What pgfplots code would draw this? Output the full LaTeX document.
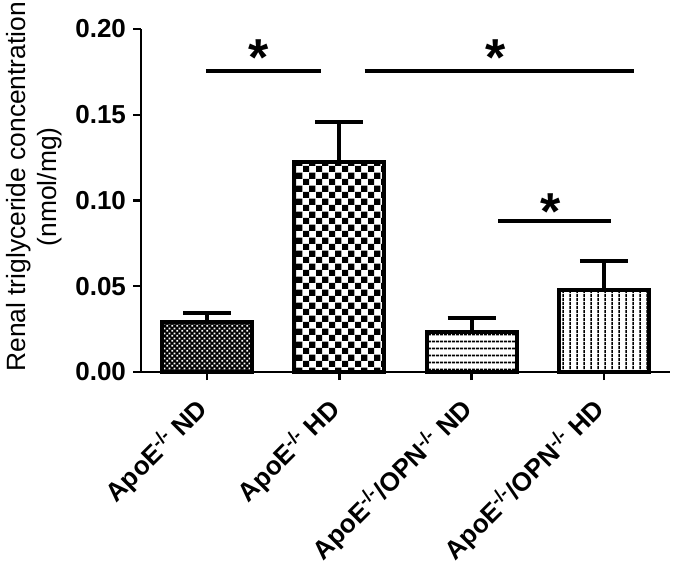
\documentclass[border=0pt]{standalone}
\usepackage{pgfplots}
\pgfplotsset{compat=1.18}
\usepackage{fontspec}
\setmainfont{Liberation Sans}
\usetikzlibrary{patterns,calc}

% Muster der Balken
\pgfdeclarepatternformonly{whitedots}{\pgfqpoint{0pt}{0pt}}{\pgfqpoint{2.6pt}{2.6pt}}{\pgfqpoint{2.6pt}{2.6pt}}{%
  \pgfpathrectangle{\pgfqpoint{0.2pt}{0.2pt}}{\pgfqpoint{1pt}{1pt}}%
  \pgfpathrectangle{\pgfqpoint{1.5pt}{1.5pt}}{\pgfqpoint{1pt}{1pt}}%
  \pgfusepath{fill}}
\pgfdeclarepatternformonly{bigchecker}{\pgfqpoint{0pt}{0pt}}{\pgfqpoint{6.6pt}{6.6pt}}{\pgfqpoint{6.6pt}{6.6pt}}{%
  \pgfpathrectangle{\pgfqpoint{0pt}{0pt}}{\pgfqpoint{3.3pt}{3.3pt}}%
  \pgfpathrectangle{\pgfqpoint{3.3pt}{3.3pt}}{\pgfqpoint{3.3pt}{3.3pt}}%
  \pgfusepath{fill}}
\pgfdeclarepatternformonly{myhlines}{\pgfqpoint{0pt}{0pt}}{\pgfqpoint{2pt}{3.7pt}}{\pgfqpoint{2pt}{3.7pt}}{%
  \pgfpathrectangle{\pgfqpoint{0pt}{1.4pt}}{\pgfqpoint{2pt}{0.9pt}}%
  \pgfusepath{fill}}
\pgfdeclarepatternformonly{myvlines}{\pgfqpoint{0pt}{0pt}}{\pgfqpoint{3.5pt}{2pt}}{\pgfqpoint{3.5pt}{2pt}}{%
  \pgfpathrectangle{\pgfqpoint{1.3pt}{0pt}}{\pgfqpoint{0.9pt}{2pt}}%
  \pgfusepath{fill}}

\newcommand{\labfont}{\fontsize{13}{15}\selectfont\bfseries}
\newcommand{\ko}{\textsuperscript{-/-}}

\begin{document}
\begin{tikzpicture}
\begin{axis}[
    width=264.5pt, height=171.5pt, scale only axis,
    xmin=-0.5, xmax=3.5, ymin=0, ymax=0.2,
    enlargelimits=false,
    axis lines=left,
    axis line style={-, line width=1.2pt},
    clip=false,
    ytick={0,0.05,0.1,0.15,0.2},
    scaled y ticks=false,
    y tick label style={font=\labfont,
      /pgf/number format/fixed, /pgf/number format/fixed zerofill,
      /pgf/number format/precision=2, /pgf/number format/assume math mode=true},
    xtick={0,1,2,3},
    xticklabels={ApoE\ko\ ND, ApoE\ko\ HD, ApoE\ko/OPN\ko\ ND, ApoE\ko/OPN\ko\ HD},
    x tick label style={rotate=45, anchor=north east, font=\fontsize{13}{15}\selectfont\bfseries,
      inner sep=2pt, xshift=-8pt, yshift=1.5pt},
    tick align=outside,
    major tick length=4pt,
    tick style={line width=1.2pt, black},
    ylabel={Renal triglyceride concentration\\(nmol/mg)},
    ylabel style={at={(ticklabel cs:0.54)}, align=center, font=\fontsize{13.2}{15.5}\selectfont},
    bar/.style={ybar, bar width=45pt, bar shift=0pt, draw=black, line width=2pt,
      /pgfplots/error bars/y dir=plus,
      /pgfplots/error bars/y explicit,
      /pgfplots/error bars/error bar style={line width=2pt, black},
      /pgfplots/error bars/error mark options={rotate=90, mark size=12pt, line width=2pt, black}},
]

\addplot[bar, fill=black, postaction={pattern=whitedots, pattern color=white}] coordinates {(0,0.029) +- (0,0.0054)};
\addplot[bar, pattern=bigchecker] coordinates {(1,0.1224) +- (0,0.0234)};
\addplot[bar, pattern=myhlines] coordinates {(2,0.0233) +- (0,0.0082)};
\addplot[bar, pattern=myvlines] coordinates {(3,0.0478) +- (0,0.0169)};

% Signifikanzlinien
\addplot[sharp plot, no marks, line width=2pt, black] coordinates {(-0.01,0.1755) (0.86,0.1755)};
\addplot[sharp plot, no marks, line width=2pt, black] coordinates {(1.19,0.1755) (3.23,0.1755)};
\addplot[sharp plot, no marks, line width=2pt, black] coordinates {(2.2,0.088) (3.05,0.088)};

\node[font=\fontsize{26}{30}\selectfont\bfseries] at (axis cs:0.39,0.1835) {*};
\node[font=\fontsize{26}{30}\selectfont\bfseries] at (axis cs:2.18,0.1835) {*};
\node[font=\fontsize{26}{30}\selectfont\bfseries] at (axis cs:2.6,0.0938) {*};
\end{axis}
\pgfresetboundingbox
\useasboundingbox ($(current axis.south west)+(-70.5pt,-96pt)$) rectangle ($(current axis.north east)+(2.5pt,14.5pt)$);
\end{tikzpicture}
\end{document}
